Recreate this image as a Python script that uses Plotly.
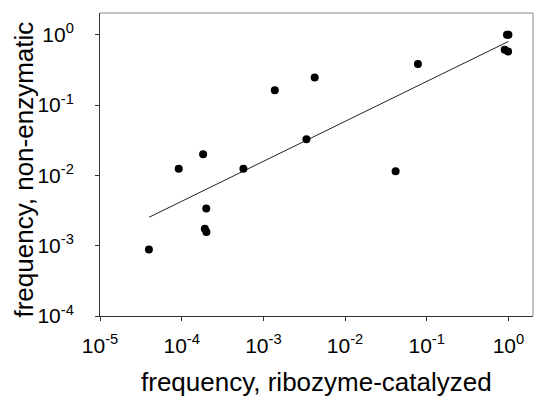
import plotly.graph_objects as go

# Data
x_ribozyme = [3.97e-5, 9.2e-5, 1.83e-4, 2.0e-4, 1.92e-4, 2.01e-4, 5.7e-4, 1.38e-3,
              3.37e-3, 4.25e-3, 0.0416, 0.078, 0.96, 1.0, 0.90, 0.99]
y_nonenzymatic = [8.8e-4, 0.0124, 0.020, 3.37e-3, 1.74e-3, 1.57e-3, 0.0124, 0.162,
                  0.0326, 0.247, 0.0114, 0.383, 1.0, 1.0, 0.61, 0.574]

# Fitted regression line endpoints
fit_x = [4.0e-5, 1.0]
fit_y = [2.54e-3, 0.80]

x_tickvals = [1e-5, 1e-4, 1e-3, 1e-2, 1e-1, 1e0]
x_ticktext = ["10<sup>-5</sup>", "10<sup>-4</sup>", "10<sup>-3</sup>",
              "10<sup>-2</sup>", "10<sup>-1</sup>", "10<sup>0</sup>"]
y_tickvals = [1e-4, 1e-3, 1e-2, 1e-1, 1e0]
y_ticktext = ["10<sup>-4</sup>", "10<sup>-3</sup>", "10<sup>-2</sup>",
              "10<sup>-1</sup>", "10<sup>0</sup>"]

x_title = "frequency, ribozyme-catalyzed"
y_title = "frequency, non-enzymatic"

FONT = "Liberation Sans, Arial, sans-serif"

fig = go.Figure()
fig.add_trace(go.Scatter(x=fit_x, y=fit_y, mode="lines",
                         line=dict(color="#222222", width=1), showlegend=False,
                         hoverinfo="skip"))
fig.add_trace(go.Scatter(x=x_ribozyme, y=y_nonenzymatic, mode="markers",
                         marker=dict(color="black", size=8), showlegend=False))

fig.update_layout(
    width=536, height=397,
    margin=dict(l=100, r=3, t=13, b=81),
    paper_bgcolor="white", plot_bgcolor="white",
    font=dict(family=FONT, size=21, color="black"),
    xaxis=dict(type="log", range=[-5, 0.301], tickvals=x_tickvals, ticktext=x_ticktext,
               ticks="outside", ticklen=4, tickcolor="#333333", tickwidth=1,
               showline=True, linecolor="#333333", linewidth=1, mirror=False,
               showgrid=False, zeroline=False, ticklabelstandoff=7,
               tickfont=dict(family=FONT, size=21, color="black")),
    yaxis=dict(type="log", range=[-4, 0.308], tickvals=y_tickvals, ticktext=y_ticktext,
               ticks="outside", ticklen=4, tickcolor="#333333", tickwidth=1,
               showline=True, linecolor="#333333", linewidth=1, mirror=False,
               showgrid=False, zeroline=False, ticklabelstandoff=17,
               tickfont=dict(family=FONT, size=21, color="black")),
    shapes=[
        dict(type="line", xref="paper", yref="paper", x0=0, x1=1, y0=1, y1=1,
             line=dict(color="#8a8a8a", width=1)),
        dict(type="line", xref="paper", yref="paper", x0=1, x1=1, y0=0, y1=1,
             line=dict(color="#8a8a8a", width=1)),
    ],
    annotations=[
        dict(text=x_title, xref="paper", yref="paper", x=0.5, y=-0.218,
             xanchor="center", yanchor="middle", showarrow=False,
             font=dict(family=FONT, size=26, color="black")),
        dict(text=y_title, xref="paper", yref="paper", x=-0.1744, y=0.485,
             xanchor="center", yanchor="middle", showarrow=False, textangle=-90,
             font=dict(family=FONT, size=26, color="black")),
    ],
)

fig.write_html("out.html",
               config={"displayModeBar": False},
               post_script="document.body.style.margin='0';document.body.style.overflow='hidden';")
